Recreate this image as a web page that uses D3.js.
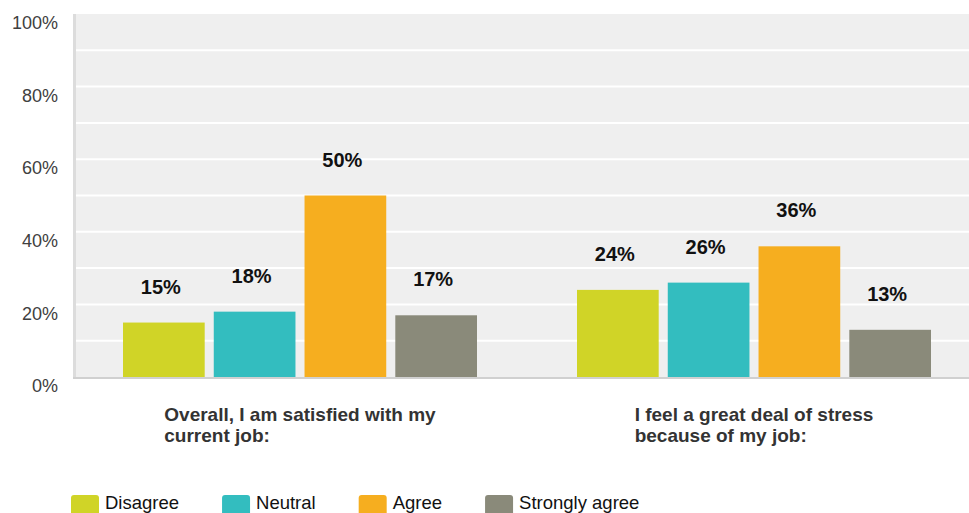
<!DOCTYPE html>
<html>
<head>
<meta charset="utf-8">
<script src="https://cdn.jsdelivr.net/npm/d3@7"></script>
<style>
  html, body { margin: 0; padding: 0; background: #ffffff; }
  svg { display: block; font-family: "Liberation Sans", Arial, Helvetica, sans-serif; }
</style>
</head>
<body>
<svg id="chart" width="969" height="513"></svg>
<script>
// Survey questions (x categories), each split into two display lines
const categories = ["Overall, I am satisfied with my current job:", "I feel a great deal of stress because of my job:"];
const categoryLines = [
  ["Overall, I am satisfied with my", "current job:"],
  ["I feel a great deal of stress", "because of my job:"]
];
const seriesNames = ["Disagree", "Neutral", "Agree", "Strongly agree"];
const seriesColors = ["#D0D427", "#33BDBF", "#F6AE1F", "#8A8A7A"];
// Percentage of responses per series, one value per category
const disagree = [15, 24];
const neutral = [18, 26];
const agree = [50, 36];
const stronglyAgree = [17, 13];
const yTicks = [0, 20, 40, 60, 80, 100];
const gridValues = [10, 20, 30, 40, 50, 60, 70, 80, 90];

const seriesValues = [disagree, neutral, agree, stronglyAgree];

const svg = d3.select("#chart");
const plot = { left: 73, right: 981, top: 14, bottom: 377 };

const y = d3.scaleLinear().domain([0, 100]).range([plot.bottom, plot.top]);
const x0 = d3.scaleBand().domain(categories).range([plot.left, plot.right]).padding(0);
const x1 = d3.scaleBand().domain(seriesNames).range([50, x0.bandwidth() - 50]).paddingInner(0.1);
const color = d3.scaleOrdinal().domain(seriesNames).range(seriesColors);

// Plot background
svg.append("rect")
  .attr("x", plot.left).attr("y", plot.top)
  .attr("width", 969 - plot.left).attr("height", plot.bottom - plot.top)
  .attr("fill", "#EFEFEF");

// Horizontal gridlines
svg.append("g").selectAll("line").data(gridValues).join("line")
  .attr("x1", plot.left).attr("x2", 969)
  .attr("y1", d => y(d)).attr("y2", d => y(d))
  .attr("stroke", "#ffffff").attr("stroke-width", 2);

// Y axis labels
const yAxis = d3.axisLeft(y).tickValues(yTicks).tickFormat(d => d + "%").tickSize(0).tickPadding(0);
const yg = svg.append("g").attr("transform", `translate(${plot.left - 15},0)`).call(yAxis);
yg.select(".domain").remove();
yg.selectAll("text")
  .attr("dy", "0.32em").attr("y", 9)
  .attr("fill", "#404040")
  .style("font-size", "18px")
  .style("font-family", "'Liberation Sans', Arial, sans-serif");

// Axis lines
svg.append("line")
  .attr("x1", plot.left + 1.5).attr("x2", plot.left + 1.5)
  .attr("y1", plot.top).attr("y2", plot.bottom + 2)
  .attr("stroke", "#DCDCDC").attr("stroke-width", 3);

// Bars
const rows = categories.map((c, i) => ({
  category: c,
  values: seriesNames.map((s, j) => ({ series: s, value: seriesValues[j][i] }))
}));

const groups = svg.append("g").selectAll("g").data(rows).join("g")
  .attr("transform", d => `translate(${x0(d.category)},0)`);

groups.selectAll("rect").data(d => d.values).join("rect")
  .attr("x", d => x1(d.series))
  .attr("y", d => y(d.value))
  .attr("width", x1.bandwidth())
  .attr("height", d => y(0) - y(d.value))
  .attr("fill", d => color(d.series));

// Value labels
groups.selectAll("text.value").data(d => d.values).join("text")
  .attr("class", "value")
  .attr("x", d => x1(d.series) + x1.bandwidth() / 2 - 3)
  .attr("y", d => y(d.value) - 29)
  .attr("text-anchor", "middle")
  .attr("fill", "#111111")
  .style("font-size", "20px")
  .style("font-weight", "bold")
  .text(d => d.value + "%");

// Baseline
svg.append("line")
  .attr("x1", plot.left).attr("x2", 969)
  .attr("y1", plot.bottom + 1).attr("y2", plot.bottom + 1)
  .attr("stroke", "#D0D0D0").attr("stroke-width", 2);

// Category labels: left-aligned block, centred under each group
categories.forEach((c, i) => {
  const t = svg.append("text")
    .attr("fill", "#333333")
    .style("font-size", "19px")
    .style("font-weight", "bold");
  categoryLines[i].forEach((line, k) => {
    t.append("tspan").attr("y", 421 + k * 21).text(line);
  });
  let w = 0;
  t.selectAll("tspan").each(function () { w = Math.max(w, this.getComputedTextLength()); });
  const left = x0(c) + x0.bandwidth() / 2 - w / 2;
  t.selectAll("tspan").attr("x", left);
});

// Legend
const legend = svg.append("g");
let lx = 71;
seriesNames.forEach((s) => {
  const item = legend.append("g");
  item.append("rect")
    .attr("x", lx).attr("y", 495)
    .attr("width", 28).attr("height", 22)
    .attr("rx", 3)
    .attr("fill", color(s));
  const txt = item.append("text")
    .attr("x", lx + 34).attr("y", 509)
    .attr("fill", "#111111")
    .style("font-size", "18.5px")
    .text(s);
  lx += 34 + txt.node().getComputedTextLength() + 43;
});
</script>
</body>
</html>
